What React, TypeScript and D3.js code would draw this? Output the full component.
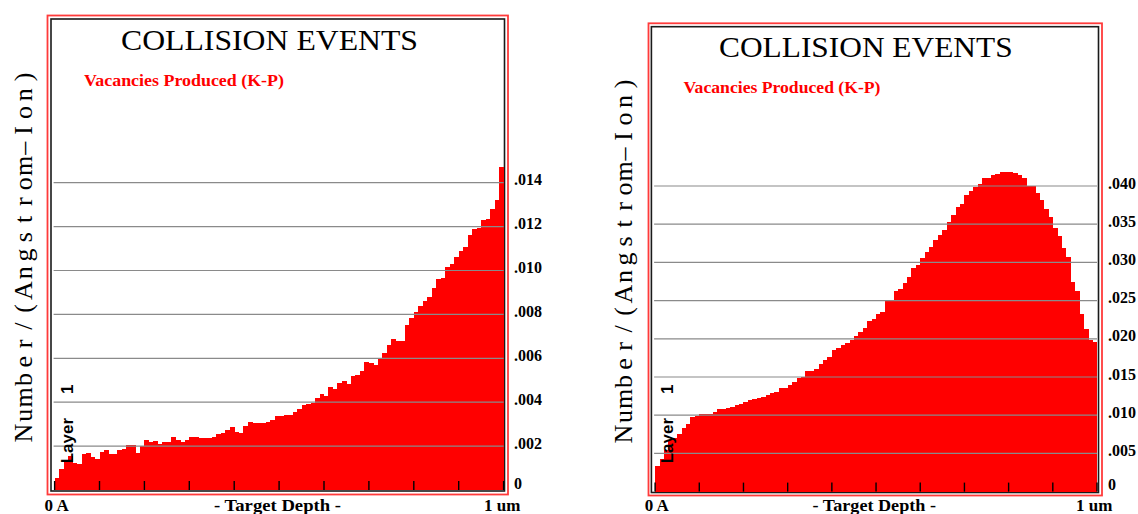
import * as d3 from 'd3'

// 100 depth bins, 0 A .. 1 um, vacancies / (Angstrom-Ion)
const leftVacancies = [
  0.00055, 0.00095, 0.0013, 0.00155, 0.00125, 0.0012, 0.00165, 0.0017, 0.0015, 0.0014,
  0.00175, 0.0018, 0.00165, 0.00165, 0.0018, 0.00185, 0.00205, 0.00205, 0.0017, 0.002,
  0.0023, 0.0022, 0.00225, 0.0021, 0.0022, 0.0022, 0.0024, 0.0023, 0.0022, 0.0023,
  0.0024, 0.0024, 0.00235, 0.00235, 0.00235, 0.0024, 0.00255, 0.0026, 0.00275, 0.00285,
  0.00265, 0.0026, 0.0029, 0.0031, 0.00305, 0.00305, 0.00305, 0.0031, 0.0032, 0.00335,
  0.00338, 0.00342, 0.0034, 0.00357, 0.0037, 0.00387, 0.0039, 0.00398, 0.0042, 0.00436,
  0.00428, 0.00468, 0.0046, 0.00486, 0.00497, 0.00485, 0.00519, 0.00524, 0.0054, 0.00583,
  0.00578, 0.00568, 0.00595, 0.00622, 0.0066, 0.00686, 0.0068, 0.0068, 0.0075, 0.00782,
  0.0081, 0.0084, 0.0086, 0.0088, 0.0092, 0.0096, 0.00968, 0.01017, 0.0103, 0.0106,
  0.0109, 0.01109, 0.0116, 0.01189, 0.01195, 0.0123, 0.01235, 0.0128, 0.0132, 0.01473,
]

const rightVacancies = [
  0.0033, 0.0043, 0.0055, 0.0067, 0.007, 0.0076, 0.0083, 0.0088, 0.0097, 0.0099,
  0.0101, 0.01016, 0.0101, 0.0104, 0.01075, 0.01081, 0.0109, 0.01105, 0.0113, 0.01145,
  0.01175, 0.01195, 0.0121, 0.01225, 0.01243, 0.01265, 0.01286, 0.01308, 0.01352, 0.01352,
  0.0139, 0.0143, 0.0149, 0.015, 0.0158, 0.01583, 0.0161, 0.0167, 0.01723, 0.01767,
  0.01854, 0.01875, 0.01919, 0.0195, 0.0199, 0.0204, 0.0209, 0.0214, 0.0223, 0.0226,
  0.0232, 0.02356, 0.0249, 0.0251, 0.0262, 0.0265, 0.0273, 0.02814, 0.0293, 0.02967,
  0.0306, 0.0314, 0.032, 0.03295, 0.0336, 0.03426, 0.0353, 0.0362, 0.0372, 0.0376,
  0.03882, 0.0393, 0.03983, 0.0402, 0.041, 0.041, 0.04144, 0.0416, 0.04188, 0.04188,
  0.04188, 0.04175, 0.04145, 0.0411, 0.04, 0.04, 0.0391, 0.0382, 0.037, 0.0359,
  0.0345, 0.0335, 0.03184, 0.03075, 0.0275, 0.0262, 0.0232, 0.0213, 0.01984, 0.01963,
]

const leftTicks = [0, 0.002, 0.004, 0.006, 0.008, 0.01, 0.012, 0.014]
const leftTickLabels = ['0', '.002', '.004', '.006', '.008', '.010', '.012', '.014']
const rightTicks = [0, 0.005, 0.01, 0.015, 0.02, 0.025, 0.03, 0.035, 0.04]
const rightTickLabels = ['0', '.005', '.010', '.015', '.020', '.025', '.030', '.035', '.040']

const depthLabels = ['0 A', '- Target Depth -', '1 um']
const yTitle = 'Number/(Angstrom–Ion)'

const serif = '"Liberation Serif", "Times New Roman", serif'
const sans = '"Liberation Sans", Arial, sans-serif'

interface PanelProps {
  values: number[]
  ticks: number[]
  tickLabels: string[]
  outer: [number, number, number, number]
  inner: [number, number, number, number]
  plotX: [number, number]
  yRange: [number, number]
  title: { x: number; y: number; len: number }
  sub: { x: number; y: number; len: number }
  yLab: { base: number; from: number; to: number }
  layer: { base: number; start: number }
  labelX: number
  bottom: { y: number; xs: number[]; midLen: number }
}

const Panel = (p: PanelProps) => {
  const x = d3.scaleLinear().domain([0, p.values.length]).range(p.plotX)
  // range maps 0 -> baseline and the top tick -> its gridline
  const y = d3.scaleLinear().domain([0, p.ticks[p.ticks.length - 1]]).range(p.yRange)
  const base = y(0)
  const xTicks = d3.range(11).map(i => p.plotX[0] + (i * (p.plotX[1] - p.plotX[0])) / 10)
  const chars = Array.from(yTitle)
  const step = (p.yLab.from - p.yLab.to) / (chars.length - 1)
  const charX = chars.map((_, i) => -(p.yLab.from - i * step)).join(' ')

  return (
    <g>
      <rect x={p.outer[0]} y={p.outer[1]} width={p.outer[2] - p.outer[0]} height={p.outer[3] - p.outer[1]}
        fill="none" stroke="#ff3b3b" strokeWidth={1.8} />
      <rect x={p.inner[0]} y={p.inner[1]} width={p.inner[2] - p.inner[0]} height={p.inner[3] - p.inner[1]}
        fill="#fff" stroke="#1a1a1a" strokeWidth={1.6} />

      {p.values.map((v, i) => (
        <rect key={i} x={x(i)} y={y(v)} width={x(i + 1) - x(i) + 0.4} height={base - y(v)}
          fill="#ff0000" shapeRendering="crispEdges" />
      ))}

      {p.ticks.slice(1).map(t => (
        <line key={t} x1={p.plotX[0] - 1} x2={p.plotX[1]} y1={y(t)} y2={y(t)} stroke="#8a8a8a" strokeWidth={1.2} />
      ))}

      {xTicks.map((tx, i) => (
        <line key={i} x1={tx} x2={tx} y1={base} y2={base - 9} stroke="#000" strokeWidth={1.4} />
      ))}

      {p.ticks.map((t, i) => (
        <text key={t} x={p.labelX} y={i === 0 ? base - 1.5 : y(t) + 2.5} fontFamily={serif}
          fontWeight="bold" fontSize={16} fill="#000">{p.tickLabels[i]}</text>
      ))}

      <text x={p.title.x} y={p.title.y} fontFamily={serif} fontSize={30} textLength={p.title.len}
        lengthAdjust="spacingAndGlyphs" fill="#000">COLLISION EVENTS</text>
      <text x={p.sub.x} y={p.sub.y} fontFamily={serif} fontSize={17} fontWeight="bold" textLength={p.sub.len}
        lengthAdjust="spacingAndGlyphs" fill="#ff0000">Vacancies Produced (K-P)</text>

      <text transform="rotate(-90)" x={charX} y={p.yLab.base} textAnchor="middle" fontFamily={serif}
        fontSize={26} fill="#000">{yTitle}</text>

      <text transform="rotate(-90)" x={-p.layer.start} y={p.layer.base} fontFamily={sans} fontWeight="bold"
        fontSize={17} fill="#000">Layer<tspan dx={24}>1</tspan></text>

      <text x={p.bottom.xs[0]} y={p.bottom.y} fontFamily={serif} fontWeight="bold" fontSize={17}>{depthLabels[0]}</text>
      <text x={p.bottom.xs[1]} y={p.bottom.y} fontFamily={serif} fontWeight="bold" fontSize={17}
        textLength={p.bottom.midLen} lengthAdjust="spacingAndGlyphs">{depthLabels[1]}</text>
      <text x={p.bottom.xs[2]} y={p.bottom.y} fontFamily={serif} fontWeight="bold" fontSize={17}>{depthLabels[2]}</text>
    </g>
  )
}

export default function App() {
  return (
    <svg width={1138} height={514} style={{ position: 'absolute', left: 0, top: 0, background: '#fff' }}>
      <Panel
        values={leftVacancies}
        ticks={leftTicks}
        tickLabels={leftTickLabels}
        outer={[47.5, 15.5, 508, 494.5]}
        inner={[51, 19, 504.5, 491]}
        plotX={[54.6, 503.6]}
        yRange={[490, 182.7]}
        title={{ x: 121, y: 49.5, len: 297 }}
        sub={{ x: 84, y: 86, len: 200 }}
        yLab={{ base: 32, from: 433, to: 77 }}
        layer={{ base: 73, start: 463.3 }}
        labelX={514}
        bottom={{ y: 510.5, xs: [44.6, 214, 484], midLen: 127 }}
      />
      <Panel
        values={rightVacancies}
        ticks={rightTicks}
        tickLabels={rightTickLabels}
        outer={[648.5, 23.3, 1102, 495.5]}
        inner={[651.4, 26.7, 1098.5, 492.5]}
        plotX={[655.1, 1097]}
        yRange={[491.6, 186]}
        title={{ x: 719, y: 57.3, len: 293.6 }}
        sub={{ x: 683.5, y: 92.7, len: 197 }}
        yLab={{ base: 632, from: 434, to: 84 }}
        layer={{ base: 673.3, start: 463.3 }}
        labelX={1108}
        bottom={{ y: 510.7, xs: [644.8, 812.5, 1076], midLen: 123.5 }}
      />
    </svg>
  )
}
